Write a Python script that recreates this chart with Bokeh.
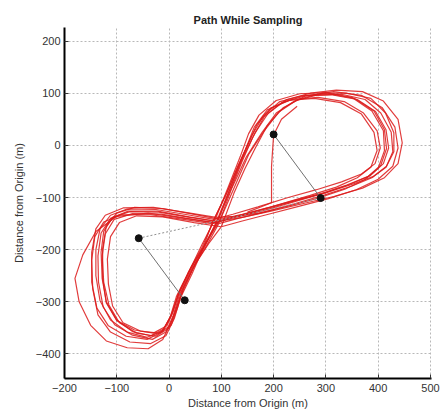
from bokeh.plotting import figure
from bokeh.models import Range1d, FixedTicker
from bokeh.embed import file_html
from bokeh.resources import INLINE

# ---- data ----
t1_x = [92, 118, 140, 160, 182, 215, 260, 310, 360, 395, 415, 420, 410, 385, 345, 295, 240, 180, 130, 92, 40, -20, -75, -108, -125, -130, -128, -120, -100, -70, -35, -10, 5, 18, 40, 66, 92]
t1_y = [-146, -85, -30, 15, 55, 82, 95, 97, 88, 65, 30, -5, -35, -58, -75, -92, -108, -125, -137, -146, -138, -128, -127, -138, -165, -205, -255, -300, -335, -357, -365, -352, -325, -285, -240, -195, -146]
t2_x = [95, 120, 148, 178, 205, 240, 285, 330, 375, 405, 425, 428, 415, 388, 350, 298, 240, 182, 132, 95, 45, -15, -70, -105, -122, -128, -125, -115, -95, -62, -25, 0, 12, 24, 46, 72, 95]
t2_y = [-150, -82, -22, 25, 62, 85, 97, 98, 88, 62, 25, -12, -42, -62, -78, -95, -112, -128, -140, -150, -142, -132, -131, -142, -170, -212, -262, -306, -340, -360, -366, -350, -318, -280, -235, -192, -150]
t3_x = [86, 112, 132, 150, 168, 195, 235, 285, 335, 372, 398, 404, 394, 368, 330, 282, 228, 170, 122, 86, 35, -25, -80, -112, -132, -140, -140, -132, -112, -80, -42, -14, 2, 14, 36, 62, 86]
t3_y = [-142, -88, -40, 0, 40, 72, 88, 92, 84, 62, 28, -5, -35, -55, -70, -85, -100, -118, -132, -142, -133, -123, -122, -134, -160, -200, -250, -298, -335, -358, -368, -357, -330, -290, -245, -198, -142]
t4_x = [100, 124, 145, 165, 188, 218, 262, 315, 368, 408, 432, 438, 428, 400, 358, 305, 248, 190, 140, 100, 48, -12, -62, -95, -112, -118, -116, -108, -88, -55, -20, 4, 16, 28, 50, 76, 100]
t4_y = [-156, -92, -45, -5, 38, 72, 95, 103, 96, 72, 35, -5, -40, -65, -85, -102, -117, -132, -145, -156, -148, -137, -135, -148, -175, -218, -266, -308, -340, -356, -360, -345, -312, -272, -228, -188, -156]
t5_x = [90, 116, 138, 158, 180, 212, 258, 305, 355, 392, 412, 416, 405, 380, 340, 290, 235, 176, 128, 90, 30, -40, -100, -140, -165, -180, -172, -150, -120, -80, -40, -12, 6, 22, 44, 68, 90]
t5_y = [-148, -84, -28, 18, 56, 84, 96, 99, 90, 66, 30, -6, -38, -60, -76, -93, -108, -124, -136, -148, -140, -130, -136, -165, -210, -255, -300, -345, -375, -388, -390, -372, -335, -290, -240, -192, -148]
t6_x = [93, 118, 142, 165, 190, 225, 270, 320, 370, 410, 438, 446, 438, 412, 370, 315, 255, 195, 140, 93, 38, -22, -78, -112, -130, -136, -135, -126, -104, -70, -32, -6, 8, 20, 42, 68, 93]
t6_y = [-146, -80, -22, 25, 62, 88, 100, 106, 103, 85, 50, 5, -35, -62, -82, -98, -112, -126, -138, -146, -137, -126, -126, -140, -168, -212, -262, -310, -344, -364, -372, -358, -326, -286, -240, -195, -146]
t7_x = [82, 110, 128, 146, 163, 188, 228, 278, 328, 368, 392, 398, 386, 360, 320, 270, 215, 160, 115, 82, 28, -35, -92, -125, -142, -148, -146, -136, -112, -75, -35, -6, 10, 22, 44, 64, 82]
t7_y = [-150, -92, -48, -8, 35, 68, 86, 90, 82, 60, 25, -10, -42, -62, -80, -96, -112, -128, -140, -150, -142, -133, -133, -147, -175, -220, -275, -325, -358, -377, -380, -365, -332, -292, -246, -200, -150]
t8_x = [98, 126, 152, 182, 210, 246, 292, 340, 386, 414, 430, 430, 416, 390, 352, 302, 245, 188, 140, 98, 46, -12, -66, -100, -120, -127, -127, -120, -100, -66, -30, -4, 8, 20, 42, 70, 98]
t8_y = [-142, -78, -18, 28, 64, 88, 100, 100, 90, 62, 24, -12, -40, -60, -74, -90, -104, -120, -132, -142, -132, -121, -119, -130, -155, -198, -255, -302, -336, -354, -360, -346, -318, -280, -234, -188, -142]
t9_x = [90, 114, 136, 152, 172, 205, 250, 300, 350, 388, 410, 412, 400, 374, 336, 286, 230, 172, 126, 90, 34, -30, -88, -122, -140, -148, -148, -138, -116, -82, -42, -12, 4, 18, 40, 64, 90]
t9_y = [-138, -78, -22, 22, 58, 86, 99, 101, 92, 66, 28, -10, -44, -66, -84, -101, -116, -130, -136, -138, -129, -119, -120, -134, -160, -205, -262, -312, -346, -366, -372, -357, -325, -285, -238, -188, -138]
t10_x = [150, 196, 196, 200, 215, 245]
t10_y = [-128, -110, -40, 20, 50, 75]

red_xs = [t1_x, t2_x, t3_x, t4_x, t5_x, t6_x, t7_x, t8_x, t9_x, t10_x]
red_ys = [t1_y, t2_y, t3_y, t4_y, t5_y, t6_y, t7_y, t8_y, t9_y, t10_y]

# sampling stations
station_x = [-58, 30, 200, 290]
station_y = [-178, -297, 21, -101]

# connections between stations
solid_xs = [[-58, 30], [200, 290]]
solid_ys = [[-178, -297], [21, -101]]
dotted_x = [-58, 290]
dotted_y = [-178, -101]

ticks_x = [-200, -100, 0, 100, 200, 300, 400, 500]
ticks_y = [-400, -300, -200, -100, 0, 100, 200]

FONT = "Liberation Sans"

p = figure(width=442, height=419, output_backend="svg", toolbar_location=None,
           x_range=Range1d(-200, 502), y_range=Range1d(-447, 226),
           min_border_left=64, min_border_right=11, min_border_top=27, min_border_bottom=41,
           title="Path While Sampling")
p.title.text_font = FONT
p.title.text_font_size = "11px"
p.title.text_font_style = "bold"
p.title.text_color = "#222222"
p.title.align = "center"
p.title.offset = 0
p.title.standoff = 4

p.outline_line_color = None
p.background_fill_color = "white"
p.border_fill_color = "white"

for ax in (p.xaxis[0], p.yaxis[0]):
    ax.axis_line_color = "black"
    ax.axis_line_width = 2
    ax.major_tick_in = 4
    ax.major_tick_out = 0
    ax.major_tick_line_color = "#333333"
    ax.minor_tick_line_color = None
    ax.major_label_text_font = FONT
    ax.major_label_text_font_size = "11px"
    ax.major_label_text_color = "#333333"
    ax.axis_label = "Distance from Origin (m)"
    ax.axis_label_text_font = FONT
    ax.axis_label_text_font_size = "11px"
    ax.axis_label_text_font_style = "normal"
    ax.axis_label_text_color = "#333333"

p.xaxis[0].ticker = FixedTicker(ticks=ticks_x)
p.yaxis[0].ticker = FixedTicker(ticks=ticks_y)
p.xaxis[0].major_label_standoff = 5
p.xaxis[0].axis_label_standoff = 2
p.yaxis[0].major_label_standoff = 4
p.yaxis[0].axis_label_standoff = 8

for g in (p.xgrid[0], p.ygrid[0]):
    g.grid_line_color = "#b8b8b8"
    g.grid_line_dash = "2 2"
    g.grid_line_width = 1
p.xgrid[0].ticker = FixedTicker(ticks=ticks_x)
p.ygrid[0].ticker = FixedTicker(ticks=ticks_y)

p.multi_line(red_xs, red_ys, line_color="#dc1a1a", line_width=1.2, line_alpha=0.85)
p.multi_line(solid_xs, solid_ys, line_color="#707070", line_width=1)
p.line(dotted_x, dotted_y, line_color="#909090", line_width=1, line_dash="2 2")
p.scatter(station_x, station_y, size=7, fill_color="#111111", line_color="#111111")

open("out.html", "w").write(file_html(p, INLINE))
